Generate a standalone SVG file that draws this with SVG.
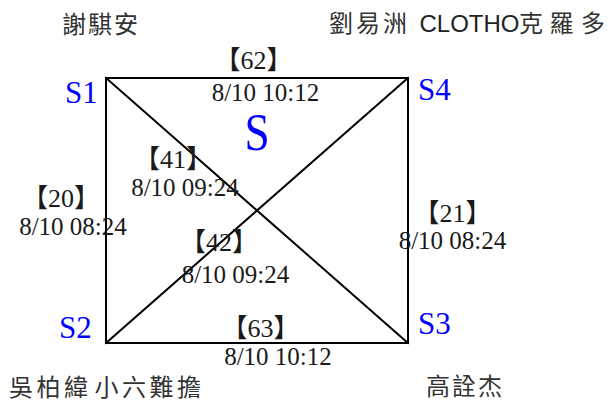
<svg xmlns="http://www.w3.org/2000/svg" width="608" height="405" viewBox="0 0 608 405">
<style>
.edge{stroke:#000;stroke-width:2;fill:none;stroke-linecap:square}
.node{font-family:"Liberation Serif","Noto Sans CJK TC",serif;font-size:31px;fill:#0000ff}
.name{font-family:"Noto Sans CJK TC","Noto Sans CJK SC",sans-serif;font-size:24px;fill:#333}
.lat{font-family:"Liberation Sans","Noto Sans CJK TC",sans-serif;font-size:24px;fill:#222}
.lbl{font-family:"Liberation Serif","Noto Sans CJK TC",serif;font-size:25px;fill:#1a1a1a;text-anchor:middle}
.tag{font-size:26px}
</style>
<rect width="608" height="405" fill="#fff"/>
<g id="connectors">
<line id="e62" class="edge" x1="106" y1="78" x2="408" y2="78"/>
<line id="e20" class="edge" x1="106" y1="78" x2="106" y2="343"/>
<line id="e63" class="edge" x1="106" y1="343" x2="408" y2="343"/>
<line id="e21" class="edge" x1="408" y1="78" x2="408" y2="343"/>
<line id="e41" class="edge" x1="106" y1="78" x2="408" y2="343"/>
<line id="e42" class="edge" x1="106" y1="343" x2="408" y2="78"/>
</g>
<g id="edge-labels">
<text class="lbl tag" x="253.5" y="69">【62】</text>
<text class="lbl" x="265.5" y="101">8/10 10:12</text>
<text class="lbl tag" x="173" y="168">【41】</text>
<text class="lbl" x="185" y="196">8/10 09:24</text>
<text class="lbl tag" x="61" y="207">【20】</text>
<text class="lbl" x="73" y="235">8/10 08:24</text>
<text class="lbl tag" x="219" y="251">【42】</text>
<text class="lbl" x="235.5" y="283">8/10 09:24</text>
<text class="lbl tag" x="260.5" y="337">【63】</text>
<text class="lbl" x="278" y="365">8/10 10:12</text>
<text class="lbl tag" x="452.5" y="222">【21】</text>
<text class="lbl" x="452.5" y="249">8/10 08:24</text>
</g>
<g id="S1">
<text class="node" x="65" y="103">S1</text>
<text class="name" x="62 88 114" y="33">謝騏安</text>
</g>
<g id="S4">
<text class="node" x="418" y="100">S4</text>
<text y="32"><tspan class="name" x="329 356 383">劉易洲 </tspan><tspan class="lat" x="419.5">CLOTHO</tspan><tspan class="name" x="519 549.5 581">克羅多</tspan></text>
</g>
<g id="S2">
<text class="node" x="59" y="338">S2</text>
<text class="name" y="396"><tspan x="9 36.5 64">吳柏緯 </tspan><tspan x="94.5 122 149.5 177">小六難擔</tspan></text>
</g>
<g id="S3">
<text class="node" x="418" y="334">S3</text>
<text class="name" x="426 452 478" y="395">高詮杰</text>
</g>
<g id="S">
<text class="node" transform="translate(244.5,150) scale(0.87,1)" x="0" y="0" style="font-size:52px">S</text>
</g>
</svg>
